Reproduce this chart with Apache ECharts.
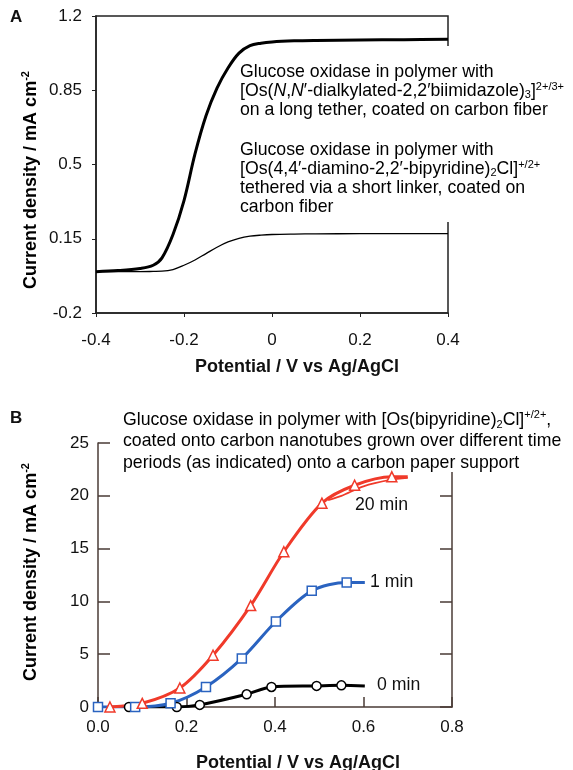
<!DOCTYPE html>
<html>
<head>
<meta charset="utf-8">
<script src="https://cdn.jsdelivr.net/npm/echarts@6/dist/echarts.min.js"></script>
<style>
html,body{margin:0;padding:0;background:#fff}
#chart{width:573px;height:770px}
</style>
</head>
<body>
<div id="chart"></div>
<script>
// panel A: voltammograms on carbon fiber
var potA   = [-0.4, -0.35, -0.3, -0.27, -0.25, -0.225, -0.2, -0.175, -0.15, -0.125, -0.1, -0.075, -0.05, -0.025, 0, 0.05, 0.1, 0.2, 0.3, 0.4];
var thickA = [-0.005, 0.0, 0.01, 0.025, 0.06, 0.17, 0.33, 0.55, 0.73, 0.86, 0.955, 1.025, 1.06, 1.072, 1.078, 1.083, 1.085, 1.087, 1.088, 1.09];
var thinA  = [-0.005, -0.005, -0.005, -0.004, -0.003, 0.005, 0.025, 0.05, 0.08, 0.11, 0.135, 0.152, 0.162, 0.167, 0.17, 0.172, 0.173, 0.174, 0.174, 0.174];
var yTicksA = [-0.2, 0.15, 0.5, 0.85, 1.2];

// panel B: nanotube growth times (last point of each = line end, no marker)
var red20X   = [0.027, 0.10, 0.185, 0.26, 0.345, 0.42, 0.506, 0.58, 0.664, 0.70];
var red20Y   = [0.0, 0.35, 1.8, 4.9, 9.6, 14.7, 19.3, 21.0, 21.8, 21.8];
var red20BackX = [0.70, 0.66, 0.60, 0.55, 0.52];
var red20BackY = [21.7, 21.5, 20.9, 20.0, 19.6];
var blue1X   = [0.0, 0.084, 0.164, 0.244, 0.325, 0.402, 0.483, 0.562, 0.603];
var blue1Y   = [0.0, 0.0, 0.35, 1.9, 4.6, 8.1, 11.0, 11.8, 11.8];
var black0X  = [0.07, 0.178, 0.23, 0.336, 0.392, 0.494, 0.55, 0.603];
var black0Y  = [0.0, 0.0, 0.2, 1.2, 1.9, 2.0, 2.05, 2.0];

var FONT = 'Liberation Sans, Arial, sans-serif';
var FS = 17.7;
var axA = '#222';
var axB = '#4a3b36';

function pairs(xs, ys) {
    return xs.map(function (x, i) { return [x, ys[i]]; });
}
function marked(xs, ys) {
    // every point gets a marker except the last one (line tail)
    return xs.map(function (x, i) {
        var it = {value: [x, ys[i]]};
        if (i == xs.length - 1) it.symbol = 'none';
        return it;
    });
}

function richSet(lh) {
    return {
        n: {fontFamily: FONT, fontSize: FS, lineHeight: lh, color: '#111'},
        i: {fontFamily: FONT, fontSize: FS, lineHeight: lh, fontStyle: 'italic', color: '#111'},
        sub: {fontFamily: FONT, fontSize: 11, lineHeight: lh, verticalAlign: 'bottom', color: '#111'},
        sup: {fontFamily: FONT, fontSize: 11, lineHeight: lh, verticalAlign: 'top', color: '#111'}
    };
}
var yTitleRich = {
    b: {fontFamily: FONT, fontSize: 18, fontWeight: 'bold', lineHeight: 22, color: '#111'},
    s: {fontFamily: FONT, fontSize: 11, fontWeight: 'bold', lineHeight: 22, verticalAlign: 'top', color: '#111'}
};

function lineSeries(name, xs, ys, color, symbol, size) {
    return {
        name: name, type: 'line', xAxisIndex: 1, yAxisIndex: 1,
        data: marked(xs, ys), smooth: 0.3,
        symbol: symbol, symbolSize: size, showAllSymbol: true,
        lineStyle: {color: color, width: 3},
        itemStyle: {color: '#fff', borderColor: color, borderWidth: 1.5},
        z: 3
    };
}

var chart = echarts.init(document.getElementById('chart'), null, {renderer: 'canvas'});
var option = {
    animation: false,
    backgroundColor: '#fff',
    grid: [
        {left: 96, top: 16, width: 352, height: 297, show: true, borderColor: axA, borderWidth: 1.5, backgroundColor: 'transparent'},
        {left: 98, top: 443, width: 354, height: 264}
    ],
    xAxis: [
        {
            gridIndex: 0, type: 'value', min: -0.4, max: 0.4, interval: 0.2,
            axisLine: {onZero: false, lineStyle: {color: axA, width: 1.5}},
            axisTick: {length: 4, lineStyle: {color: axA}},
            axisLabel: {margin: 19, fontFamily: FONT, fontSize: 17, color: '#111'},
            splitLine: {show: false}
        },
        {
            gridIndex: 1, type: 'value', min: 0, max: 0.8, interval: 0.2,
            axisLine: {onZero: false, lineStyle: {color: axB, width: 1.5}},
            axisTick: {inside: true, length: 10, lineStyle: {color: axB, width: 1.5}},
            axisLabel: {margin: 12, fontFamily: FONT, fontSize: 17, color: '#111',
                formatter: function (v) { return v.toFixed(1); }},
            splitLine: {show: false}
        }
    ],
    yAxis: [
        {
            gridIndex: 0, type: 'value', min: -0.2, max: 1.2,
            axisLine: {show: true, onZero: false, lineStyle: {color: axA, width: 1.5}},
            axisTick: {show: true, length: 4, customValues: yTicksA, lineStyle: {color: axA}},
            axisLabel: {margin: 14, fontFamily: FONT, fontSize: 17, color: '#111', customValues: yTicksA,
                formatter: function (v) { return String(Math.round(v * 100) / 100); }},
            splitLine: {show: false}
        },
        {
            gridIndex: 1, type: 'value', min: 0, max: 25, interval: 5,
            axisLine: {show: true, onZero: false, lineStyle: {color: axB, width: 1.5}},
            axisTick: {show: true, inside: true, length: 12, lineStyle: {color: axB, width: 1.5}},
            axisLabel: {margin: 9, fontFamily: FONT, fontSize: 17, color: '#111'},
            splitLine: {show: false}
        },
        {
            gridIndex: 1, type: 'value', min: 0, max: 25, interval: 5, position: 'right',
            axisLine: {show: true, onZero: false, lineStyle: {color: axB, width: 1.5}},
            axisTick: {show: true, inside: true, length: 12, lineStyle: {color: axB, width: 1.5}},
            axisLabel: {show: false},
            splitLine: {show: false}
        }
    ],
    series: [
        {
            name: 'biimidazole long tether', type: 'line', xAxisIndex: 0, yAxisIndex: 0,
            data: pairs(potA, thickA), smooth: 0.35, symbol: 'none',
            lineStyle: {color: '#000', width: 3}
        },
        {
            name: 'diamino-bipyridine short linker', type: 'line', xAxisIndex: 0, yAxisIndex: 0,
            data: pairs(potA, thinA), smooth: 0.35, symbol: 'none',
            lineStyle: {color: '#000', width: 1.3}
        },
        {
            name: '20 min return', type: 'line', xAxisIndex: 1, yAxisIndex: 1,
            data: pairs(red20BackX, red20BackY), smooth: 0.3, symbol: 'none',
            lineStyle: {color: '#f03a2a', width: 1.8}
        },
        lineSeries('0 min', black0X, black0Y, '#000', 'circle', 9),
        lineSeries('1 min', blue1X, blue1Y, '#2a63c0', 'rect', 9),
        lineSeries('20 min', red20X, red20Y, '#f03a2a', 'triangle', 10)
    ],
    graphic: [
        // gaps in the frame behind the annotations
        {type: 'rect', shape: {x: 443, y: 46, width: 10, height: 176}, style: {fill: '#fff'}, z: 50},
        {type: 'rect', shape: {x: 434, y: 436, width: 24, height: 36}, style: {fill: '#fff'}, z: 50},
        {type: 'text', x: 10, y: 9, z: 60, style: {text: 'A', font: 'bold 17px ' + FONT, fill: '#111'}},
        {type: 'text', x: 10, y: 410, z: 60, style: {text: 'B', font: 'bold 17px ' + FONT, fill: '#111'}},
        {type: 'text', x: 240, y: 62.5, z: 60, style: {
            text: '{n|Glucose oxidase in polymer with}\n' +
                  '{n|[Os(}{i|N}{n|,}{i|N}{n|′-dialkylated-2,2′biimidazole)}{sub|3}{n|]}{sup|2+/3+}\n' +
                  '{n|on a long tether, coated on carbon fiber}',
            rich: richSet(19)}},
        {type: 'text', x: 240, y: 140.5, z: 60, style: {
            text: '{n|Glucose oxidase in polymer with}\n' +
                  '{n|[Os(4,4′-diamino-2,2′-bipyridine)}{sub|2}{n|Cl]}{sup|+/2+}\n' +
                  '{n|tethered via a short linker, coated on}\n' +
                  '{n|carbon fiber}',
            rich: richSet(19)}},
        {type: 'text', x: 123, y: 409, z: 60, style: {
            text: '{n|Glucose oxidase in polymer with [Os(bipyridine)}{sub|2}{n|Cl]}{sup|+/2+}{n|,}\n' +
                  '{n|coated onto carbon nanotubes grown over different time}\n' +
                  '{n|periods (as indicated) onto a carbon paper support}',
            rich: richSet(21.5)}},
        {type: 'text', x: 355, y: 505, z: 60, style: {text: '20 min', font: FS + 'px ' + FONT, fill: '#111', textVerticalAlign: 'middle'}},
        {type: 'text', x: 370, y: 582, z: 60, style: {text: '1 min', font: FS + 'px ' + FONT, fill: '#111', textVerticalAlign: 'middle'}},
        {type: 'text', x: 377, y: 685, z: 60, style: {text: '0 min', font: FS + 'px ' + FONT, fill: '#111', textVerticalAlign: 'middle'}},
        // axis titles
        {type: 'text', x: 297, y: 367, z: 60, style: {text: 'Potential / V vs Ag/AgCl', font: 'bold 18px ' + FONT, fill: '#111', textAlign: 'center', textVerticalAlign: 'middle'}},
        {type: 'text', x: 298, y: 763, z: 60, style: {text: 'Potential / V vs Ag/AgCl', font: 'bold 18px ' + FONT, fill: '#111', textAlign: 'center', textVerticalAlign: 'middle'}},
        {type: 'text', x: 31, y: 180, rotation: Math.PI / 2, z: 60, style: {
            text: '{b|Current density / mA cm}{s|-2}', rich: yTitleRich, textAlign: 'center', textVerticalAlign: 'middle'}},
        {type: 'text', x: 31, y: 572, rotation: Math.PI / 2, z: 60, style: {
            text: '{b|Current density / mA cm}{s|-2}', rich: yTitleRich, textAlign: 'center', textVerticalAlign: 'middle'}}
    ]
};
chart.setOption(option);
</script>
</body>
</html>
